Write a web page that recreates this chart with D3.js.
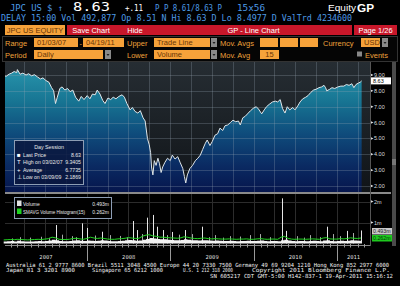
<!DOCTYPE html>
<html>
<head>
<meta charset="utf-8">
<script src="https://cdn.jsdelivr.net/npm/d3@7"></script>
<style>
body { margin: 0; background: #000; }
svg { display: block; }
</style>
</head>
<body>
<script>
// Daily closes (date, price)
var price = [
  ["2007-01-03", 8.95], ["2007-01-12", 8.92], ["2007-01-24", 9.05], ["2007-02-05", 9.12],
  ["2007-02-16", 9.22], ["2007-02-27", 9.15], ["2007-03-02", 9.34], ["2007-03-14", 9.05],
  ["2007-03-26", 9.12], ["2007-04-09", 9.0], ["2007-04-20", 9.08], ["2007-05-03", 8.95],
  ["2007-05-16", 9.02], ["2007-05-29", 8.88], ["2007-06-11", 8.75], ["2007-06-22", 8.82],
  ["2007-07-05", 8.65], ["2007-07-18", 8.55], ["2007-07-30", 8.2], ["2007-08-08", 8.0],
  ["2007-08-16", 7.2], ["2007-08-24", 7.6], ["2007-09-04", 8.15], ["2007-09-14", 8.25],
  ["2007-09-26", 8.05], ["2007-10-08", 8.15], ["2007-10-19", 7.95], ["2007-10-31", 8.05],
  ["2007-11-12", 7.6], ["2007-11-26", 7.35], ["2007-12-07", 7.65], ["2007-12-19", 7.45],
  ["2008-01-02", 7.7], ["2008-01-14", 7.5], ["2008-01-25", 7.8], ["2008-02-06", 7.75],
  ["2008-02-15", 8.05], ["2008-02-27", 7.8], ["2008-03-10", 7.4], ["2008-03-20", 7.2],
  ["2008-04-02", 7.55], ["2008-04-14", 7.45], ["2008-04-25", 7.6], ["2008-05-07", 7.5],
  ["2008-05-20", 7.65], ["2008-06-03", 7.75], ["2008-06-13", 7.6], ["2008-06-24", 7.2],
  ["2008-07-08", 6.8], ["2008-07-18", 6.95], ["2008-07-30", 6.7], ["2008-08-11", 6.6],
  ["2008-08-22", 6.75], ["2008-09-03", 6.3], ["2008-09-12", 6.1], ["2008-09-22", 5.0],
  ["2008-09-30", 4.6], ["2008-10-06", 4.1], ["2008-10-10", 3.2], ["2008-10-16", 2.7],
  ["2008-10-22", 3.6], ["2008-10-30", 3.3], ["2008-11-07", 3.75], ["2008-11-14", 3.4],
  ["2008-11-21", 2.85], ["2008-11-28", 3.2], ["2008-12-08", 3.5], ["2008-12-19", 3.75],
  ["2008-12-31", 3.6], ["2009-01-09", 3.95], ["2009-01-21", 3.7], ["2009-02-02", 3.85],
  ["2009-02-12", 3.5], ["2009-02-24", 3.1], ["2009-03-03", 2.6], ["2009-03-09", 2.19],
  ["2009-03-16", 2.7], ["2009-03-27", 3.1], ["2009-04-08", 3.3], ["2009-04-20", 3.6],
  ["2009-05-01", 3.75], ["2009-05-12", 3.95], ["2009-05-22", 4.3], ["2009-06-03", 4.7],
  ["2009-06-11", 4.9], ["2009-06-23", 4.55], ["2009-07-03", 4.8], ["2009-07-15", 5.2],
  ["2009-07-27", 5.3], ["2009-08-06", 5.65], ["2009-08-18", 5.5], ["2009-08-28", 5.8],
  ["2009-09-09", 5.85], ["2009-09-21", 6.0], ["2009-10-02", 6.15], ["2009-10-14", 6.05],
  ["2009-10-26", 6.1], ["2009-11-03", 5.85], ["2009-11-14", 6.3], ["2009-11-25", 6.4],
  ["2009-12-08", 6.6], ["2009-12-18", 6.75], ["2009-12-30", 6.9], ["2010-01-12", 7.0],
  ["2010-01-22", 6.85], ["2010-02-05", 6.55], ["2010-02-16", 6.8], ["2010-02-26", 7.0],
  ["2010-03-10", 7.15], ["2010-03-24", 7.3], ["2010-04-06", 7.35], ["2010-04-16", 7.3],
  ["2010-04-27", 7.45], ["2010-05-07", 6.9], ["2010-05-18", 6.6], ["2010-05-28", 7.0],
  ["2010-06-08", 6.8], ["2010-06-21", 6.95], ["2010-07-01", 6.8], ["2010-07-13", 7.05],
  ["2010-07-23", 7.3], ["2010-08-04", 7.5], ["2010-08-17", 7.6], ["2010-08-27", 7.7],
  ["2010-09-08", 7.9], ["2010-09-20", 8.05], ["2010-10-01", 8.1], ["2010-10-14", 8.2],
  ["2010-10-26", 8.25], ["2010-11-05", 8.35], ["2010-11-12", 8.2], ["2010-11-17", 8.0],
  ["2010-11-30", 8.1], ["2010-12-10", 8.2], ["2010-12-22", 8.15], ["2011-01-05", 8.25],
  ["2011-01-18", 8.3], ["2011-01-31", 8.3], ["2011-02-11", 8.4], ["2011-02-23", 8.35],
  ["2011-03-07", 8.45], ["2011-03-16", 8.2], ["2011-03-25", 8.4], ["2011-04-06", 8.5],
  ["2011-04-13", 8.55], ["2011-04-19", 8.63]
];

// Typical daily volume (millions), two readings per month from Jan 2007
var volumeBase = [
  .10, .11, .12, .10, .13, .11, .10, .09, .10, .11, .12, .11, .12, .14, .18, .15, .12, .11, .11, .12, .14, .15, .13, .12,
  .14, .13, .12, .13, .16, .14, .12, .11, .11, .12, .13, .15, .17, .15, .13, .14, .18, .22, .26, .24, .22, .20, .20, .18,
  .17, .16, .15, .17, .20, .18, .16, .15, .14, .15, .16, .14, .13, .14, .13, .12, .12, .13, .12, .11, .12, .12, .13, .12,
  .12, .13, .14, .12, .11, .12, .12, .11, .16, .18, .14, .12, .11, .12, .12, .11, .12, .13, .12, .11, .14, .15, .12, .11,
  .12, .13, .12, .13, .15, .14, .13, .14
];

// 15 day simple moving average of volume (millions), same schedule
var smavg = [
  .17, .18, .19, .18, .20, .19, .18, .17, .18, .19, .20, .19, .21, .23, .30, .27, .20, .19, .19, .20, .24, .25, .22, .20,
  .24, .30, .26, .24, .26, .24, .21, .20, .20, .22, .23, .25, .28, .26, .24, .25, .35, .40, .42, .36, .34, .30, .30, .28,
  .27, .26, .25, .27, .32, .30, .26, .24, .23, .25, .26, .23, .22, .23, .22, .21, .21, .22, .21, .20, .21, .21, .22, .20,
  .20, .22, .23, .21, .20, .21, .21, .20, .30, .34, .24, .21, .20, .21, .21, .20, .21, .22, .21, .20, .26, .28, .22, .21,
  .21, .23, .22, .24, .27, .25, .24, .262
];

// Heavy volume days (date, millions)
var volumeSpikes = [
  ["2007-02-08", 0.24], ["2007-03-13", 0.30], ["2007-04-26", 0.28], ["2007-06-13", 0.32], ["2007-07-20", 0.27],
  ["2007-08-18", 0.88], ["2007-09-13", 0.42], ["2007-10-27", 0.35], ["2007-11-15", 0.30], ["2007-12-09", 0.96],
  ["2008-01-01", 0.74], ["2008-02-05", 0.38], ["2008-03-07", 0.56], ["2008-04-11", 0.40], ["2008-05-25", 0.36],
  ["2008-06-25", 0.30], ["2008-07-21", 1.07], ["2008-08-08", 0.64], ["2008-08-30", 0.45], ["2008-09-20", 1.23],
  ["2008-10-16", 1.36], ["2008-11-03", 0.80], ["2008-11-29", 0.64], ["2008-12-15", 0.40], ["2009-01-08", 0.55],
  ["2009-02-08", 0.42], ["2009-03-05", 0.64], ["2009-04-04", 0.45], ["2009-05-19", 0.80], ["2009-06-20", 0.30],
  ["2009-07-15", 0.40], ["2009-08-20", 0.28], ["2009-09-19", 0.35], ["2009-11-01", 0.33], ["2009-12-15", 0.40],
  ["2010-01-28", 0.45], ["2010-03-13", 0.30], ["2010-05-04", 2.15], ["2010-05-22", 0.60], ["2010-07-09", 0.35],
  ["2010-08-10", 0.28], ["2010-09-04", 0.40], ["2010-10-18", 0.30], ["2010-11-17", 0.80], ["2010-12-13", 0.45],
  ["2011-01-13", 0.35], ["2011-02-13", 0.60], ["2011-03-11", 0.50], ["2011-04-15", 0.62]
];

var priceTicks = [2, 3, 4, 5, 6, 7, 8, 9];
var volumeTicks = [1, 2];
var yearLabels = ["2007", "2008", "2009", "2010", "2011"];
var lastPrice = 8.63;
var sessionRows = [["Last Price", "8.63"], ["High on 03/02/07", "9.3405"], ["Average", "6.7735"], ["Low on 03/09/09", "2.1869"]];
var volumeRows = [["Volume", "0.493m"], ["SMAVG Volume Histogram(15)", "0.262m"]];
var footerText = [
  ["Australia 61 2 9777 8600 Brazil 5511 3048 4500 Europe 44 20 7330 7500 Germany 49 69 9204 1210 Hong Kong 852 2977 6000"],
  ["Japan 81 3 3201 8900", "Singapore 65 6212 1000", "U.S. 1 212 318 2000", "Copyright 2011 Bloomberg Finance L.P."],
  ["SN 605217 CDT  GMT-5:00 H142-837-1 19-Apr-2011 15:16:12"]
];

var parseDate = d3.timeParse("%Y-%m-%d");
price = price.map(function(d) { return {date: parseDate(d[0]), v: d[1]}; });
volumeSpikes = volumeSpikes.map(function(d) { return {date: parseDate(d[0]), v: d[1]}; });
var halfMonth = function(i) { return new Date(2007, Math.floor(i / 2), i % 2 ? 16 : 1); };
var volBase = volumeBase.map(function(v, i) { return {date: halfMonth(i), v: v}; });
var volAvg = smavg.map(function(v, i) { return {date: halfMonth(i), v: v}; });

// Panel geometry
var plotL = 5, plotR = 370,
    priceTop = 62, priceBot = 192,
    volTop = 194, volBot = 243.5;

var x = d3.scaleTime()
    .domain([new Date(2007, 0, 1), new Date(2011, 0, 1)])
    .range([3.7, 337]);
var yP = d3.scaleLinear().domain([2, 9]).range([186, 75]);
var yV = d3.scaleLinear().domain([0, 2]).range([volBot, 201.5]);

var mono = "'DejaVu Sans Mono', monospace",
    sans = "'Liberation Sans', Arial, sans-serif",
    blue = "#4d9be6", amber = "#eea23c", boxFill = "#f6a23a", boxText = "#6a3606";

var svg = d3.select("body").append("svg")
    .attr("width", 400)
    .attr("height", 286);

svg.append("rect").attr("width", 400).attr("height", 286).attr("fill", "#000");

var defs = svg.append("defs");
var g1 = defs.append("linearGradient").attr("id", "under")
    .attr("gradientUnits", "userSpaceOnUse")
    .attr("x1", 0).attr("y1", priceTop).attr("x2", 0).attr("y2", priceBot);
[["0%", "#2b9ab0"], ["30%", "#177593"], ["55%", "#0f4c7c"], ["80%", "#0a2a62"], ["100%", "#06164d"]]
  .forEach(function(s) { g1.append("stop").attr("offset", s[0]).attr("stop-color", s[1]); });
var g2 = defs.append("linearGradient").attr("id", "over")
    .attr("gradientUnits", "userSpaceOnUse")
    .attr("x1", 0).attr("y1", priceTop).attr("x2", 0).attr("y2", priceBot);
g2.append("stop").attr("offset", "0%").attr("stop-color", "#262d33");
g2.append("stop").attr("offset", "100%").attr("stop-color", "#101418");
defs.append("clipPath").attr("id", "clipP").append("rect")
    .attr("x", plotL).attr("y", priceTop).attr("width", plotR - plotL).attr("height", priceBot - priceTop);

// ---- header rows ----
function txt(s, xx, yy, opts) {
  var t = svg.append("text").attr("x", xx).attr("y", yy).text(s)
      .attr("fill", opts.fill || "#fff")
      .style("font-family", opts.font || mono)
      .style("font-size", (opts.size || 8) + "px");
  if (opts.len) t.attr("textLength", opts.len).attr("lengthAdjust", "spacingAndGlyphs");
  if (opts.bold) t.style("font-weight", "bold");
  if (opts.anchor) t.attr("text-anchor", opts.anchor);
  return t;
}

txt("JPC US $ \u2191", 10, 10.5, {fill: blue, size: 8.5, len: 53});
txt("8.63", 73, 11, {size: 12.5, len: 37});
txt("+.11", 125, 10.5, {size: 8.5, len: 18});
txt("P P 8.61/8.63 P", 155, 10.5, {fill: blue, size: 8.5, len: 67});
txt("15x56", 237, 10.5, {fill: blue, size: 8.5, len: 28});
txt("Equity", 328, 11, {font: sans, size: 9, len: 28});
txt("GP", 357, 11.5, {font: sans, size: 10.5, bold: true, len: 17});
txt("DELAY 15:00 Vol 492,877 Op 8.51 N Hi 8.63 D Lo 8.4977 D ValTrd  4234600", 1, 21,
    {fill: blue, size: 8.5, len: 351});

// tab bar
svg.append("rect").attr("x", 5).attr("y", 25).attr("width", 60).attr("height", 10).attr("fill", boxFill);
txt("JPC US EQUITY", 35, 32.8, {fill: boxText, font: sans, size: 7.5, anchor: "middle"});
[[67, 115, "Save Chart"], [115, 155, "Hide"], [155, 352, "GP - Line Chart"], [354, 397, "Page 1/26"]]
  .forEach(function(t) {
    svg.append("rect").attr("x", t[0]).attr("y", 25).attr("width", t[1] - t[0]).attr("height", 10)
        .attr("fill", "#c8172a");
    txt(t[2], (t[0] + t[1]) / 2, 32.8, {font: sans, size: 7.5, anchor: "middle"});
  });

// settings panel
svg.append("rect").attr("x", 2.5).attr("y", 36.5).attr("width", 395).attr("height", 25)
    .attr("fill", "#050505").attr("stroke", "#333");
function box(x0, x1, yy, s, center) {
  svg.append("rect").attr("x", x0).attr("y", yy).attr("width", x1 - x0).attr("height", 9).attr("fill", boxFill);
  if (s) txt(s, center ? (x0 + x1) / 2 : x0 + 3, yy + 7.2,
             {fill: boxText, font: sans, size: 7.5, anchor: center ? "middle" : null});
}
function drop(x0, yy) {
  svg.append("rect").attr("x", x0).attr("y", yy).attr("width", 6).attr("height", 9).attr("fill", "#8a8a8a");
  svg.append("path").attr("d", "M" + (x0 + 1.5) + "," + (yy + 4) + "h3l-1.5,2z").attr("fill", "#222");
}
txt("Range", 5, 45.5, {fill: amber, font: sans, size: 7.5});
box(34, 78, 38, "01/03/07");
txt("-", 79.5, 45.5, {fill: amber, font: sans, size: 7.5});
box(83, 124, 38, "04/19/11");
txt("Upper", 127, 45.5, {fill: amber, font: sans, size: 7.5});
box(154, 210, 38, "Trade Line"); drop(211, 38);
txt("Mov. Avgs", 220, 45.5, {fill: amber, font: sans, size: 7.5});
box(260, 278, 38); box(280, 298, 38); box(300, 318, 38);
txt("Currency", 323, 45.5, {fill: amber, font: sans, size: 7.5});
box(361, 380, 38, "USD"); drop(382, 38);

txt("Period", 5, 57.5, {fill: amber, font: sans, size: 7.5});
box(34, 103, 50, "Daily"); drop(105, 50);
txt("Lower", 127, 57.5, {fill: amber, font: sans, size: 7.5});
box(154, 210, 50, "Volume"); drop(211, 50);
txt("Mov. Avg", 220, 57.5, {fill: amber, font: sans, size: 7.5});
box(260, 279, 50, "15", true);
svg.append("rect").attr("x", 357).attr("y", 51.5).attr("width", 5).attr("height", 5).attr("fill", "#888");
txt("Events", 365, 57.5, {fill: amber, font: sans, size: 7.5});

// ---- price panel ----
svg.append("rect").attr("x", plotL).attr("y", priceTop).attr("width", plotR - plotL)
    .attr("height", priceBot - priceTop).attr("fill", "url(#over)");

var pricePanel = svg.append("g").attr("clip-path", "url(#clipP)");

var area = d3.area()
    .x(function(d) { return x(d.date); })
    .y0(priceBot)
    .y1(function(d) { return yP(d.v); });
var line = d3.line()
    .x(function(d) { return x(d.date); })
    .y(function(d) { return yP(d.v); });

pricePanel.append("path").attr("d", area(price)).attr("fill", "url(#under)");

var quarters = d3.timeMonth.range(new Date(2007, 3, 1), x.invert(plotR), 3);
var gridColor = "rgba(150,165,180,0.28)";

pricePanel.selectAll(".vgrid").data(quarters).enter().append("line")
    .attr("x1", function(d) { return Math.round(x(d)) + 0.5; })
    .attr("x2", function(d) { return Math.round(x(d)) + 0.5; })
    .attr("y1", priceTop).attr("y2", priceBot)
    .attr("stroke", gridColor);
pricePanel.selectAll(".hgrid").data(priceTicks).enter().append("line")
    .attr("x1", plotL).attr("x2", plotR)
    .attr("y1", function(d) { return Math.round(yP(d)) + 0.5; })
    .attr("y2", function(d) { return Math.round(yP(d)) + 0.5; })
    .attr("stroke", gridColor);

pricePanel.append("path").attr("d", line(price))
    .attr("fill", "none").attr("stroke", "#dfe6ea").attr("stroke-width", 1);

// price axis on the right
svg.selectAll(".ptick").data(priceTicks).enter().append("path")
    .attr("d", function(d) { return "M" + (plotR + 1) + "," + (yP(d) - 1.2) + "l2.5,1.2l-2.5,1.2z"; })
    .attr("fill", "#ddd");
svg.selectAll(".plab").data(priceTicks).enter().append("text")
    .attr("x", plotR + 4).attr("y", function(d) { return yP(d) + 2; })
    .attr("fill", "#ddd").style("font-family", sans).style("font-size", "5.5px")
    .text(function(d) { return d3.format(".2f")(d); });

svg.append("rect").attr("x", plotR + 1).attr("y", yP(lastPrice) - 3.5)
    .attr("width", 20).attr("height", 7).attr("fill", "#fff");
svg.append("text").attr("x", plotR + 3).attr("y", yP(lastPrice) + 2)
    .attr("fill", "#000").style("font-family", sans).style("font-size", "5.5px")
    .text(d3.format(".2f")(lastPrice));

// Day Session legend
var leg = svg.append("g").attr("transform", "translate(14,140)");
leg.append("rect").attr("x", 0.5).attr("y", 0.5).attr("width", 69).attr("height", 44)
    .attr("fill", "rgba(10,24,62,0.85)").attr("stroke", "#8d9db4");
leg.append("text").attr("x", 35).attr("y", 8.5).attr("text-anchor", "middle")
    .attr("fill", "#e8e8e8").style("font-family", sans).style("font-size", "5.3px").text("Day Session");
var icons = ["\u25A0", "T", "+", "\u22A5"];
sessionRows.forEach(function(r, i) {
  var yy = 16.5 + i * 7.5;
  leg.append("text").attr("x", 3).attr("y", yy).attr("fill", "#fff")
      .style("font-family", sans).style("font-size", "6px").text(icons[i]);
  leg.append("text").attr("x", 9).attr("y", yy).attr("fill", "#e8e8e8")
      .style("font-family", sans).style("font-size", "5.2px").text(r[0]);
  leg.append("text").attr("x", 67).attr("y", yy).attr("text-anchor", "end").attr("fill", "#e8e8e8")
      .style("font-family", sans).style("font-size", "5.2px").text(r[1]);
});

// separator between panels
svg.append("line").attr("x1", plotL).attr("x2", 391).attr("y1", 193).attr("y2", 193)
    .attr("stroke", "#8a8a8a").attr("stroke-width", 2);

// ---- volume panel ----
var volGrid = "#2c2c2c";
svg.selectAll(".vvgrid").data(quarters).enter().append("line")
    .attr("x1", function(d) { return Math.round(x(d)) + 0.5; })
    .attr("x2", function(d) { return Math.round(x(d)) + 0.5; })
    .attr("y1", volTop).attr("y2", volBot)
    .attr("stroke", volGrid);
svg.selectAll(".vhgrid").data(volumeTicks).enter().append("line")
    .attr("x1", plotL).attr("x2", plotR)
    .attr("y1", function(d) { return Math.round(yV(d)) + 0.5; })
    .attr("y2", function(d) { return Math.round(yV(d)) + 0.5; })
    .attr("stroke", volGrid);

svg.selectAll(".spike").data(volumeSpikes).enter().append("line")
    .attr("x1", function(d) { return Math.round(x(d.date)) + 0.5; })
    .attr("x2", function(d) { return Math.round(x(d.date)) + 0.5; })
    .attr("y1", yV(0)).attr("y2", function(d) { return yV(d.v); })
    .attr("stroke", function(d) { return d.v > 0.5 ? "#e6e6e6" : "#a8a8a8"; });

var volArea = d3.area().curve(d3.curveStepAfter)
    .x(function(d) { return x(d.date); })
    .y0(yV(0))
    .y1(function(d) { return yV(d.v); });
svg.append("path").attr("d", volArea(volBase)).attr("fill", "#f2f2f2");

var avgLine = d3.line()
    .x(function(d) { return x(d.date); })
    .y(function(d) { return yV(d.v); });
svg.append("path").attr("d", avgLine(volAvg))
    .attr("fill", "none").attr("stroke", "#22d422").attr("stroke-width", 1);

svg.selectAll(".vtick").data(volumeTicks).enter().append("path")
    .attr("d", function(d) { return "M" + (plotR + 1) + "," + (yV(d) - 1.2) + "l2.5,1.2l-2.5,1.2z"; })
    .attr("fill", "#ddd");
svg.selectAll(".vlab").data(volumeTicks).enter().append("text")
    .attr("x", plotR + 4).attr("y", function(d) { return yV(d) + 2; })
    .attr("fill", "#ddd").style("font-family", sans).style("font-size", "5.5px")
    .text(function(d) { return d + "m"; });

// last volume / average labels
svg.append("rect").attr("x", plotR + 2).attr("y", 228).attr("width", 20).attr("height", 6.5)
    .attr("fill", "#c9c9c9");
svg.append("text").attr("x", plotR + 3).attr("y", 233.2).attr("fill", "#222")
    .style("font-family", sans).style("font-size", "5.3px").text(volumeRows[0][1]);
svg.append("rect").attr("x", plotR + 2).attr("y", 235).attr("width", 20).attr("height", 6.5)
    .attr("fill", "#1ec81e");
svg.append("text").attr("x", plotR + 3).attr("y", 240.2).attr("fill", "#063806")
    .style("font-family", sans).style("font-size", "5.3px").text(volumeRows[1][1]);

// volume legend
var vleg = svg.append("g").attr("transform", "translate(14,197)");
vleg.append("rect").attr("x", 0.5).attr("y", 0.5).attr("width", 97).attr("height", 21)
    .attr("fill", "#000").attr("stroke", "#8d9db4");
var vcol = ["#e0e0e0", "#1ed21e"],
    vlen = [null, 62];
volumeRows.forEach(function(r, i) {
  var yy = 8.5 + i * 8;
  vleg.append("rect").attr("x", 3).attr("y", yy - 5).attr("width", 4.5).attr("height", 5.5).attr("fill", vcol[i]);
  var t = vleg.append("text").attr("x", 9).attr("y", yy).attr("fill", "#e8e8e8")
      .style("font-family", sans).style("font-size", "5px").text(r[0]);
  if (vlen[i]) t.attr("textLength", vlen[i]).attr("lengthAdjust", "spacingAndGlyphs");
  vleg.append("text").attr("x", 95).attr("y", yy).attr("text-anchor", "end").attr("fill", "#e8e8e8")
      .style("font-family", sans).style("font-size", "5px").text(r[1]);
});

// right edge of plots and scrollbar
svg.append("line").attr("x1", plotR + 0.5).attr("x2", plotR + 0.5).attr("y1", priceTop).attr("y2", 246)
    .attr("stroke", "#555");
svg.append("rect").attr("x", 392).attr("y", priceTop).attr("width", 4).attr("height", 184).attr("fill", "#4a4a4a");
svg.append("rect").attr("x", 392).attr("y", 159).attr("width", 4).attr("height", 6).attr("fill", "#777");

// ---- time axis ----
svg.append("line").attr("x1", plotL).attr("x2", plotR).attr("y1", 245.5).attr("y2", 245.5)
    .attr("stroke", "#888");
var months = d3.timeMonth.range(new Date(2007, 1, 1), x.invert(plotR));
svg.selectAll(".mtick").data(months).enter().append("line")
    .attr("x1", function(d) { return Math.round(x(d)) + 0.5; })
    .attr("x2", function(d) { return Math.round(x(d)) + 0.5; })
    .attr("y1", 244).attr("y2", 247.5)
    .attr("stroke", "#999");
var yearStarts = d3.timeYear.range(new Date(2008, 0, 1), x.invert(plotR));
svg.selectAll(".ytick").data(yearStarts).enter().append("line")
    .attr("x1", function(d) { return Math.round(x(d)) + 0.5; })
    .attr("x2", function(d) { return Math.round(x(d)) + 0.5; })
    .attr("y1", 245).attr("y2", 261)
    .attr("stroke", "#999");
svg.selectAll(".ylab").data(yearLabels).enter().append("text")
    .attr("x", function(d) {
      var a = Math.max(plotL, x(new Date(+d, 0, 1))), b = Math.min(plotR, x(new Date(+d + 1, 0, 1)));
      return (a + b) / 2;
    })
    .attr("y", 258.5).attr("text-anchor", "middle")
    .attr("fill", "#ddd").style("font-family", mono).style("font-size", "5.5px")
    .text(function(d) { return d; });

// ---- footer ----
var footPos = [
  [[6, 383]],
  [[6, 69], [92, 71], [183, 50], [252, 138]],
  [[210, 183]]
];
footerText.forEach(function(row, i) {
  row.forEach(function(s, j) {
    txt(s, footPos[i][j][0], 266.8 + i * 5.4, {size: 5.6, len: footPos[i][j][1], fill: "#f0f0f0"});
  });
});
</script>
</body>
</html>
